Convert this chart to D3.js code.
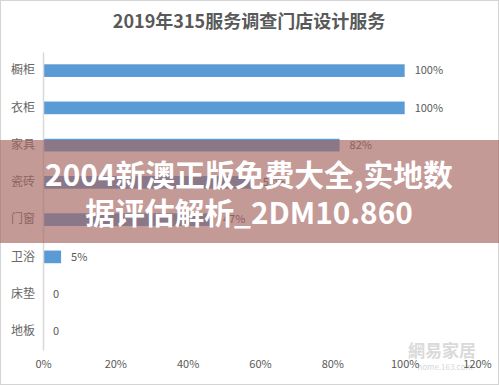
<!DOCTYPE html>
<html>
<head>
<meta charset="utf-8">
<script src="https://cdn.jsdelivr.net/npm/d3@7"></script>
<style>
html,body{margin:0;padding:0;background:#fff;}
svg{display:block;}
text{font-family:"Noto Sans CJK SC","Noto Sans",sans-serif;}
</style>
</head>
<body>
<svg id="chart" width="499" height="385"></svg>
<script>
const title = "2019年315服务调查门店设计服务";
const categories = ["橱柜","衣柜","家具","瓷砖","门窗","卫浴","床垫","地板"];
const values = [1.00, 1.00, 0.82, 0.58, 0.47, 0.05, 0, 0];
const xTicks = [0, 0.2, 0.4, 0.6, 0.8, 1.0, 1.2];
const bannerLines = ["2004新澳正版免费大全,实地数", "据评估解析_2DM10.860"];

const W = 499, H = 385;
const svg = d3.select("#chart");

svg.append("rect").attr("x",0.5).attr("y",0.5).attr("width",W-1).attr("height",H-1)
  .attr("fill","#fff").attr("stroke","#d4d4d4");

svg.append("text").attr("x",249).attr("y",28).attr("text-anchor","middle")
  .attr("font-size",18).attr("font-weight","bold").attr("fill","#595959").text(title);

const x = d3.scaleLinear().domain([0,1.2]).range([43,477]);
const y = d3.scaleBand().domain(categories).range([52,350]).paddingInner(0.66).paddingOuter(0.33);

// watermark (behind labels)
svg.append("text").attr("x",442).attr("y",357).attr("text-anchor","middle")
  .attr("font-size",17).attr("font-weight","bold").attr("fill","#dadada").text("網易家居");
svg.append("text").attr("x",445).attr("y",370).attr("text-anchor","middle")
  .attr("font-size",8).attr("fill","#d6d6d6").text("home.163.com");

// bars
svg.append("g").selectAll("rect").data(categories).join("rect")
  .attr("x", x(0)).attr("y", d => y(d))
  .attr("width", (d,i) => x(values[i]) - x(0))
  .attr("height", y.bandwidth())
  .attr("fill","#5b9bd5");

// value labels
svg.append("g").selectAll("text").data(categories).join("text")
  .attr("x", (d,i) => x(values[i]) + 10)
  .attr("y", d => y(d) + y.bandwidth()/2)
  .attr("dy","0.35em")
  .attr("font-size",11).attr("fill","#595959")
  .text((d,i) => values[i] === 0 ? "0" : d3.format(".0%")(values[i]));

// y axis
const yAxis = d3.axisLeft(y).tickSize(0).tickPadding(8);
const gy = svg.append("g").attr("transform",`translate(${x(0)},0)`).call(yAxis);
gy.select(".domain").attr("stroke","#d9d9d9").attr("stroke-width",1.5);
gy.selectAll("text").attr("font-size",12).attr("fill","#666")
  .attr("font-family",'"Noto Sans CJK SC",sans-serif');

// x axis (labels only)
const xAxis = d3.axisBottom(x).tickValues(xTicks).tickFormat(d3.format(".0%")).tickSize(0).tickPadding(0);
const gx = svg.append("g").attr("transform","translate(0,360)").call(xAxis);
gx.select(".domain").remove();
gx.selectAll("text").attr("font-size",11).attr("fill","#595959")
  .attr("font-family",'"Noto Sans CJK SC",sans-serif');

// overlay banner
svg.append("rect").attr("x",0).attr("y",140).attr("width",W).attr("height",103)
  .attr("fill","rgb(164,100,96)").attr("fill-opacity",0.65);
const bt = svg.append("g").selectAll("text").data(bannerLines).join("text")
  .attr("x",249).attr("y",(d,i) => 186 + i*38)
  .attr("text-anchor","middle").attr("font-size",30).attr("font-weight","bold")
  .attr("fill","#fff").text(d => d);
// fit first line to ~408px wide like the reference
const w0 = bt.node().getComputedTextLength();
if (w0 > 0) {
  const fs = Math.max(24, Math.min(32, 30 * 408 / w0));
  bt.attr("font-size", fs);
}
</script>
</body>
</html>
